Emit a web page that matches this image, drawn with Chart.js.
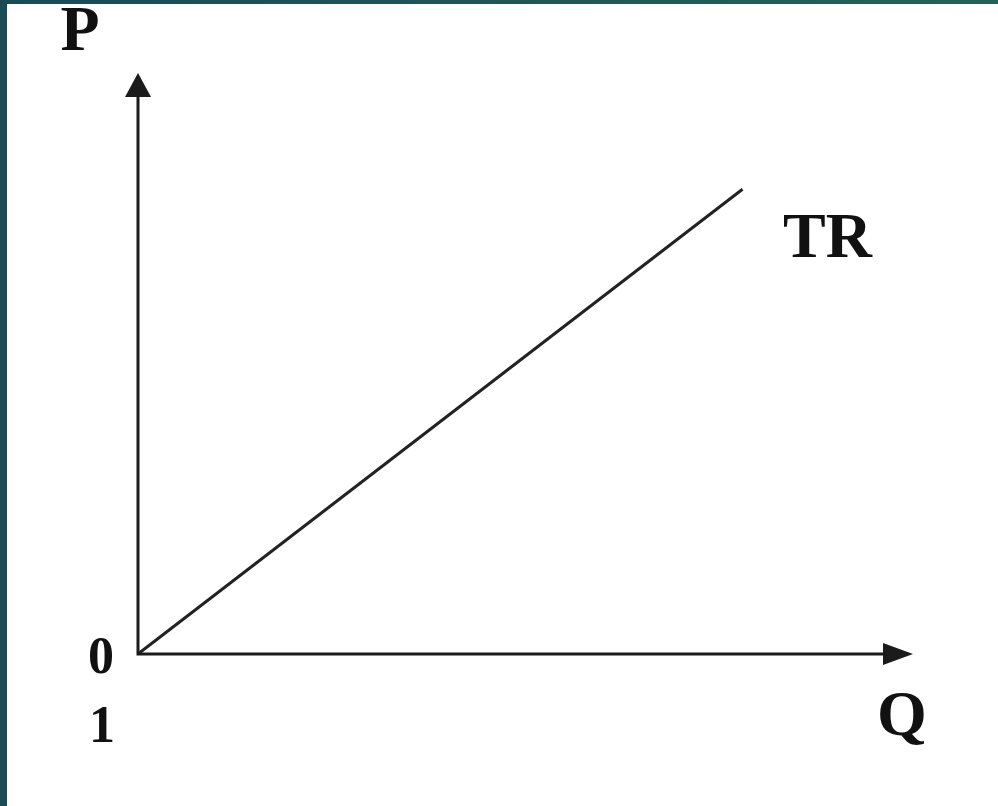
<!DOCTYPE html>
<html>
<head>
<meta charset="utf-8">
<title>TR</title>
<script src="https://cdn.jsdelivr.net/npm/chart.js@4.4.1/dist/chart.umd.min.js"></script>
<style>
  html, body { margin: 0; padding: 0; background: #ffffff; }
  #wrap { position: relative; width: 998px; height: 806px; }
</style>
</head>
<body>
<div id="wrap"><canvas id="trChart"></canvas></div>
<script>
// Total revenue line, quantity on x and price/revenue on y
const quantity = [0, 7.8];
const revenue = [0, 8.0];
const axisMax = { x: 10, y: 10 };
const axisNames = { x: 'Q', y: 'P' };
const seriesName = 'TR';
const originLabel = '0';
const cornerLabel = '1';

const ink = '#1b1b1b';
const serif = '"Liberation Serif", "Times New Roman", serif';

// frame: white page with the dark teal edge on the left and top
const framePlugin = {
    id: 'frame',
    beforeDraw(chart) {
        const { ctx, width, height } = chart;
        ctx.save();
        ctx.fillStyle = '#ffffff';
        ctx.fillRect(0, 0, width, height);
        const g = ctx.createLinearGradient(0, 0, width, 0);
        g.addColorStop(0, '#1a4a56');
        g.addColorStop(1, '#236257');
        ctx.fillStyle = g;
        ctx.fillRect(0, 0, width, 4);
        ctx.fillStyle = '#1a4a56';
        ctx.fillRect(0, 0, 7, height);
        ctx.restore();
    }
};

// axes with arrowheads plus the letter labels
const axesPlugin = {
    id: 'arrowAxes',
    afterDatasetsDraw(chart) {
        const { ctx, chartArea, scales } = chart;
        const x0 = scales.x.getPixelForValue(0);
        const y0 = scales.y.getPixelForValue(0);
        const xEnd = chartArea.right;
        const yEnd = chartArea.top;

        ctx.save();
        ctx.strokeStyle = ink;
        ctx.fillStyle = ink;
        ctx.lineWidth = 3;
        ctx.lineCap = 'butt';

        ctx.beginPath();
        ctx.moveTo(x0, y0 + 1.5);
        ctx.lineTo(x0, yEnd + 20);
        ctx.moveTo(x0 - 1.5, y0);
        ctx.lineTo(xEnd - 24, y0);
        ctx.stroke();

        // up arrow
        ctx.beginPath();
        ctx.moveTo(x0, yEnd);
        ctx.lineTo(x0 - 13, yEnd + 24);
        ctx.lineTo(x0 + 13, yEnd + 24);
        ctx.closePath();
        ctx.fill();

        // right arrow
        ctx.beginPath();
        ctx.moveTo(xEnd, y0);
        ctx.lineTo(xEnd - 30, y0 - 11);
        ctx.lineTo(xEnd - 30, y0 + 11);
        ctx.closePath();
        ctx.fill();

        ctx.textAlign = 'center';
        ctx.textBaseline = 'alphabetic';
        ctx.fillStyle = '#111111';

        ctx.font = 'bold 64px ' + serif;
        ctx.fillText(axisNames.y, x0 - 58, yEnd - 23);
        ctx.fillText(axisNames.x, xEnd - 11, y0 + 81);

        const last = quantity.length - 1;
        const tx = scales.x.getPixelForValue(quantity[last]);
        const ty = scales.y.getPixelForValue(revenue[last]);
        ctx.fillText(seriesName, tx + 85, ty + 68);

        ctx.font = 'bold 52px ' + serif;
        ctx.fillText(originLabel, x0 - 37, y0 + 19);
        ctx.fillText(cornerLabel, x0 - 36, y0 + 88);
        ctx.restore();
    }
};

const ctxEl = document.getElementById('trChart');

const trChart = new Chart(ctxEl, {
    type: 'line',
    data: {
        datasets: [
            {
                label: seriesName,
                data: quantity.map((q, i) => ({ x: q, y: revenue[i] })),
                borderColor: '#222222',
                borderWidth: 3,
                pointRadius: 0,
                fill: false,
                tension: 0,
            },
        ],
    },
    options: {
        responsive: true,
        maintainAspectRatio: false,
        animation: false,
        layout: {
            padding: { left: 138, right: 85, top: 73, bottom: 152 },
        },
        scales: {
            x: { type: 'linear', min: 0, max: axisMax.x, display: false },
            y: { type: 'linear', min: 0, max: axisMax.y, display: false },
        },
        plugins: {
            legend: { display: false },
            tooltip: { enabled: false },
        },
    },
    plugins: [framePlugin, axesPlugin],
});
</script>
</body>
</html>
